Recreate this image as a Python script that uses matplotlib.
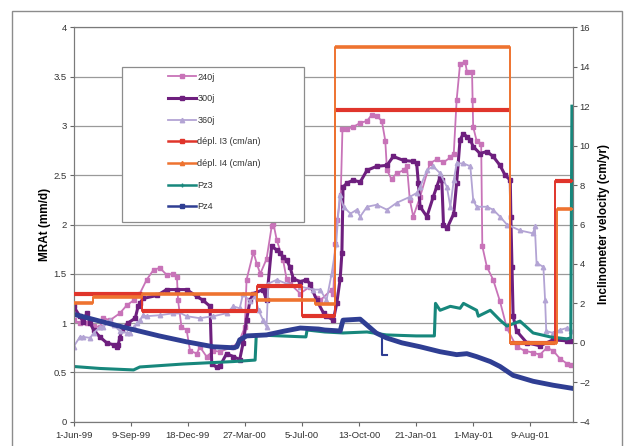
import matplotlib
matplotlib.use('Agg')
import matplotlib.pyplot as plt
from matplotlib.lines import Line2D
from matplotlib.patches import Rectangle

plt.rcParams['font.family'] = ['Liberation Sans', 'DejaVu Sans']

# x values are days since 1-Jun-99
xticks_lbl = ['1-Jun-99', '9-Sep-99', '18-Dec-99', '27-Mar-00', '5-Jul-00',
              '13-Oct-00', '21-Jan-01', '1-May-01', '9-Aug-01']

# MRAt series (mm/d), left axis
d240 = [0, 11, 23, 35, 46, 52, 64, 81, 93, 105, 116, 128, 140, 151, 163, 175, 181, 183, 189, 198,
        204, 216, 221, 233, 245, 256, 280, 291, 300, 303, 315, 321, 327, 338, 347, 350, 356, 367, 373, 379,
        397, 414, 426, 432, 452, 455, 458, 462, 468, 471, 479, 490, 502, 514, 522, 531, 540, 546, 549, 557,
        566, 578, 584, 589, 595, 607, 624, 636, 648, 660, 666, 671, 677, 686, 689, 698, 699, 700, 706, 714,
        716, 724, 735, 747, 759, 776, 790, 805, 817, 829, 840, 852, 864, 872]
v240 = [1.03, 1.0, 1.0, 0.97, 0.96, 1.05, 1.03, 1.1, 1.18, 1.23, 1.3, 1.44, 1.54, 1.56, 1.49, 1.5, 1.47, 1.23, 0.96, 0.93,
        0.72, 0.69, 0.76, 0.66, 0.72, 0.71, 0.76, 0.83, 0.96, 1.44, 1.72, 1.6, 1.5, 1.65, 1.98, 2.01, 1.84, 1.64, 1.45, 1.4,
        1.3, 1.37, 1.25, 1.23, 1.34, 1.3, 1.8, 2.05, 2.3, 2.97, 2.97, 2.99, 3.03, 3.05, 3.11, 3.1, 3.05, 2.85, 2.55, 2.46,
        2.52, 2.55, 2.59, 2.25, 2.08, 2.28, 2.62, 2.66, 2.63, 2.68, 2.72, 3.26, 3.63, 3.65, 3.55, 3.55, 3.26, 2.99, 2.85, 2.82,
        1.78, 1.57, 1.44, 1.22, 0.95, 0.76, 0.72, 0.70, 0.68, 0.75, 0.72, 0.64, 0.59, 0.57]

d300 = [0, 11, 17, 23, 29, 35, 46, 58, 70, 76, 78, 81, 84, 95, 108, 113, 116, 122, 146, 163,
        181, 198, 216, 227, 239, 242, 251, 256, 268, 280, 291, 297, 303, 309, 315, 332, 338, 347, 356, 362,
        367, 373, 379, 385, 397, 408, 414, 426, 438, 443, 455, 461, 467, 470, 472, 479, 490, 502, 514, 531,
        549, 560, 578, 595, 601, 604, 607, 619, 630, 636, 642, 645, 648, 654, 666, 671, 677, 683, 689, 695,
        700, 712, 724, 735, 747, 756, 765, 766, 768, 770, 776, 794, 817, 840, 864, 872]
v300 = [1.17, 1.07, 1.01, 1.1, 1.0, 0.93, 0.86, 0.80, 0.78, 0.76, 0.78, 0.85, 0.93, 1.0, 1.05, 1.17, 1.2, 1.25, 1.28, 1.34,
        1.34, 1.34, 1.27, 1.23, 1.17, 0.59, 0.55, 0.56, 0.69, 0.66, 0.63, 0.80, 1.03, 1.23, 1.30, 1.34, 1.23, 1.78, 1.74, 1.71,
        1.67, 1.64, 1.57, 1.45, 1.42, 1.44, 1.40, 1.23, 1.10, 1.07, 1.03, 1.2, 1.45, 1.71, 2.38, 2.42, 2.45, 2.43, 2.55, 2.59,
        2.60, 2.69, 2.65, 2.64, 2.62, 2.42, 2.18, 2.08, 2.28, 2.38, 2.48, 2.45, 2.0, 1.96, 2.11, 2.42, 2.86, 2.92, 2.89, 2.86,
        2.79, 2.72, 2.74, 2.69, 2.6, 2.5, 2.45, 2.08, 1.57, 1.07, 0.92, 0.80, 0.77, 0.83, 0.82, 0.82]

d360 = [0, 11, 17, 29, 35, 46, 52, 64, 70, 81, 93, 99, 105, 111, 116, 122, 128, 151, 175, 181,
        198, 221, 245, 268, 280, 291, 297, 309, 318, 324, 332, 338, 341, 356, 373, 397, 420, 432, 443, 452,
        460, 466, 473, 485, 496, 502, 514, 531, 549, 566, 589, 601, 607, 619, 630, 642, 654, 660, 666, 671,
        683, 695, 700, 706, 724, 735, 747, 759, 782, 805, 808, 811, 823, 826, 828, 840, 852, 864, 872]
v360 = [0.76, 0.86, 0.86, 0.85, 0.9, 0.96, 0.96, 1.03, 0.98, 0.92, 0.90, 0.90, 0.96, 1.0, 1.03, 1.08, 1.07, 1.08, 1.10, 1.12,
        1.07, 1.05, 1.07, 1.10, 1.17, 1.15, 1.30, 1.22, 1.27, 1.13, 1.03, 0.96, 1.40, 1.44, 1.40, 1.37, 1.34, 1.34, 1.23, 1.5,
        1.8, 2.3, 2.18, 2.11, 2.15, 2.08, 2.18, 2.20, 2.15, 2.22, 2.28, 2.32, 2.38, 2.55, 2.59, 2.52, 2.38, 2.18, 2.45, 2.62,
        2.62, 2.59, 2.25, 2.18, 2.18, 2.15, 2.08, 2.0, 1.94, 1.91, 1.98, 1.61, 1.57, 1.23, 0.92, 0.90, 0.93, 0.95, 0.92]

# piezometers
dpz3 = [0, 46, 105, 116, 192, 280, 318, 320, 397, 407, 409, 440, 472, 514, 548, 600, 632, 634, 642, 660,
        677, 683, 706, 709, 730, 747, 759, 782, 805, 835, 864, 871, 873]
vpz3 = [0.56, 0.54, 0.525, 0.555, 0.585, 0.61, 0.625, 0.88, 0.862, 0.86, 0.93, 0.91, 0.90, 0.91, 0.88, 0.87, 0.87, 1.2, 1.13, 1.17,
        1.15, 1.2, 1.13, 1.07, 1.13, 1.03, 0.97, 1.02, 0.9, 0.86, 0.84, 0.85, 3.2]

dpz4 = [0, 46, 93, 150, 198, 245, 280, 286, 291, 303, 338, 370, 397, 429, 440, 467, 472, 502, 514, 530,
        548, 575, 607, 642, 671, 689, 706, 730, 747, 770, 805, 840, 872]
vpz4 = [1.09, 1.02, 0.95, 0.87, 0.81, 0.76, 0.75, 0.76, 0.83, 0.87, 0.88, 0.92, 0.95, 0.94, 0.93, 0.92, 1.03, 1.04, 0.98, 0.90,
        0.85, 0.80, 0.76, 0.71, 0.68, 0.69, 0.66, 0.61, 0.56, 0.47, 0.41, 0.37, 0.34]
dpz4_b = [541, 541, 549]
vpz4_b = [0.87, 0.68, 0.68]

# inclinometer velocities (cm/an), right axis, step values
i3_day = [0, 119, 321, 400, 458, 765, 843, 873]
i3_val = [2.5, 1.6, 2.9, 1.38, 11.8, 0, 8.2, 8.2]
i4_day = [0, 34, 119, 321, 423, 458, 765, 846, 873]
i4_val = [2.0, 2.33, 2.47, 2.17, 1.97, 15.0, 0, 6.8, 6.8]

c240, c300, c360 = '#C873B8', '#6E1F7E', '#B3A4D4'
c3, c4 = '#E0352B', '#EE7330'
cpz3, cpz4 = '#17877C', '#2F3E93'

fig = plt.figure(figsize=(6.27, 4.46), dpi=100)
fig.add_artist(Rectangle((12/627, -0.02), 610/627, 1 - 11/446 + 0.02, transform=fig.transFigure,
                         fill=False, edgecolor='#8c8c8c', lw=1))

ax = fig.add_axes([73.6/627, 24.3/446, 498.9/627, 394.4/446])
ax.plot(d240, v240, color=c240, lw=1.3, marker='s', ms=2.8, zorder=3)
ax.plot(d300, v300, color=c300, lw=2.2, marker='s', ms=3.2, zorder=4)
ax.plot(d360, v360, color=c360, lw=1.3, marker='^', ms=3.2, zorder=5)
ax.plot(dpz3, vpz3, color=cpz3, lw=2.2, zorder=6)
ax.plot(dpz4, vpz4, color=cpz4, lw=3.5, zorder=7)
ax.plot(dpz4_b, vpz4_b, color=cpz4, lw=1.5, zorder=7)

ax.set_xlim(0, 874)
ax.set_ylim(0, 4)
ax.set_xticks(range(0, 801, 100))
ax.set_xticklabels(xticks_lbl)
ax.set_yticks([0, 0.5, 1, 1.5, 2, 2.5, 3, 3.5, 4])
ax.set_yticklabels(['0', '0.5', '1', '1.5', '2', '2.5', '3', '3.5', '4'])
ax.yaxis.grid(True, color='#9a9a9a', lw=0.9)
ax.set_axisbelow(True)

ax2 = ax.twinx()
ax2.plot(i3_day, i3_val, color=c3, lw=1.4, drawstyle='steps-post', zorder=3)
ax2.hlines(i3_val[:-1], i3_day[:-1], i3_day[1:], color=c3, lw=3.0, zorder=3)
ax2.plot(i4_day, i4_val, color=c4, lw=1.4, drawstyle='steps-post', zorder=4)
ax2.hlines(i4_val[:-1], i4_day[:-1], i4_day[1:], color=c4, lw=2.6, zorder=4)
ax2.set_ylim(-4, 16)
ax2.set_yticks(range(-4, 17, 2))

for a in (ax, ax2):
    a.tick_params(labelsize=6.8, labelcolor='#333333', color='#666666', length=3, width=0.8, pad=2)
    for s in a.spines.values():
        s.set_color('#7a7a7a')
ax.tick_params(axis='x', pad=4)

ax.set_ylabel('MRAt (mm/d)', fontsize=8.5, fontweight='bold')
ax.yaxis.set_label_coords(-0.046, 0.5)
ax2.set_ylabel('Inclinometer velocity (cm/yr)', fontsize=8.5, fontweight='bold')
ax2.yaxis.set_label_coords(1.051, 0.5)

# legend box
fig.add_artist(Rectangle((122/627, 1 - 222/446), 182/627, 155/446, transform=fig.transFigure,
                         facecolor='white', edgecolor='#8c8c8c', lw=0.9, zorder=5))
handles = [
    Line2D([], [], color=c240, lw=1.3, marker='s', ms=2.8),
    Line2D([], [], color=c300, lw=2.2, marker='s', ms=3.2),
    Line2D([], [], color=c360, lw=1.3, marker='^', ms=3.2),
    Line2D([], [], color=c3, lw=1.8, marker='s', ms=3),
    Line2D([], [], color=c4, lw=1.8, marker='^', ms=3),
    Line2D([], [], color=cpz3, lw=1.8, marker='+', ms=3.5),
    Line2D([], [], color=cpz4, lw=1.8, marker='s', ms=3),
]
labels = ['240j', '300j', '360j', 'dépl. I3 (cm/an)', 'dépl. I4 (cm/an)', 'Pz3', 'Pz4']
leg = fig.legend(handles, labels, loc='upper left', bbox_to_anchor=(168/627, 1 - 72.5/446),
                 bbox_transform=fig.transFigure, frameon=False, fontsize=6.6,
                 handlelength=3.0, handletextpad=0.2, labelspacing=1.38,
                 borderpad=0, borderaxespad=0)
leg.set_zorder(6)
for t in leg.get_texts():
    t.set_color('#333333')

fig.savefig('out.png', dpi=100)
